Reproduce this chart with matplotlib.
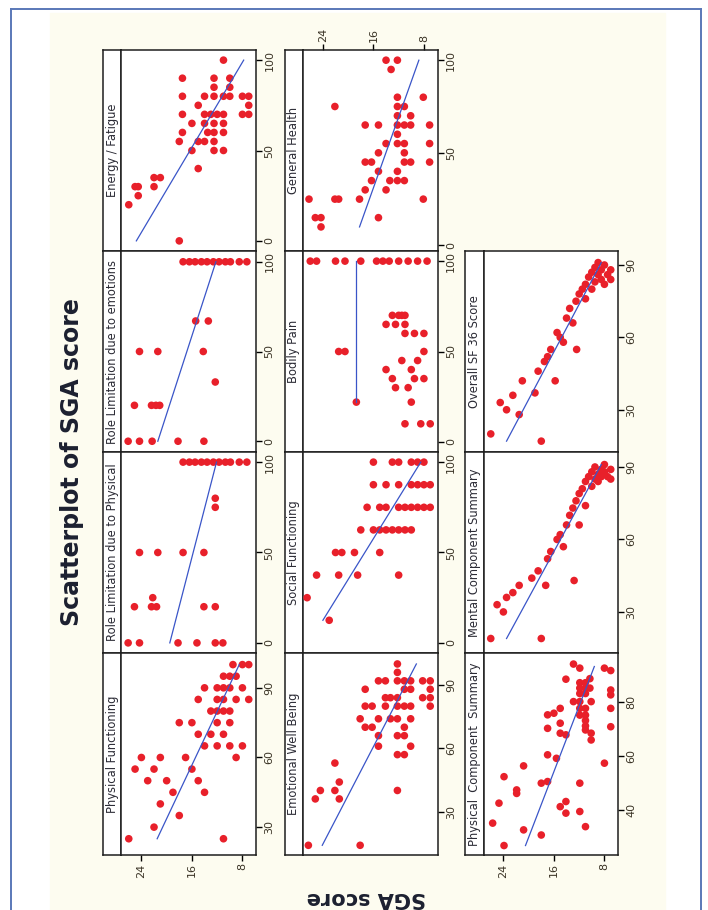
import matplotlib
matplotlib.use('Agg')
import matplotlib.pyplot as plt
from matplotlib import font_manager
from matplotlib.lines import Line2D
from matplotlib.patches import Rectangle

W, H = 708, 910

# ---------------- data ----------------
# discrete scales: value levels and the SGA scores seen at each level

energy_levels = [100, 90, 85, 80, 75, 70, 65, 60, 55, 50, 40, 35, 30, 25, 20, 0]
energy_sga = [[11], [17.5, 12.5, 10], [12.5, 10], [17.5, 14, 12.5, 11, 10, 8, 7],
              [15, 7], [17.5, 14, 13, 12, 11, 8, 7], [16, 14, 12.5, 11],
              [17.5, 13.5, 12.5, 11], [18, 15, 14, 12.5], [16, 12.5, 11], [15],
              [22, 21], [25, 24.5, 22], [24.5], [26], [18]]
energy_fit = [0, 100]
energy_fit_sga = [24.8, 7.8]

role_emo_levels = [100, 67, 50, 33, 20, 0]
role_emo_sga = [[17.4, 16.4, 15.5, 14.5, 13.6, 12.6, 11.7, 10.7, 9.9, 8.5, 7.3],
                [15.4, 13.4], [24.3, 21.4, 14.2], [12.3], [25.1, 22.4, 21.7, 21.1],
                [26.1, 24.3, 22.3, 18.2, 14.1]]
role_emo_fit = [0, 100]
role_emo_fit_sga = [21.4, 12.2]

role_phys_levels = [100, 80, 75, 50, 25, 20, 0]
role_phys_sga = [[17.4, 16.4, 15.5, 14.5, 13.6, 12.6, 11.7, 10.7, 9.9, 8.5, 7.3],
                 [12.3], [12.3], [24.3, 21.4, 17.4, 14.1], [22.2],
                 [25.1, 22.4, 21.6, 14.1, 12.3], [26.1, 24.3, 18.2, 15.2, 12.3, 11.1]]
role_phys_fit = [0, 100]
role_phys_fit_sga = [19.5, 12.1]

pf_levels = [100, 95, 90, 85, 80, 75, 70, 65, 60, 55, 50, 45, 40, 35, 30, 25]
pf_sga = [[9.5, 8, 7], [11, 10, 9], [14, 12, 11, 10, 8], [15, 12, 11, 9, 7], [13, 12, 11, 10],
          [18, 16, 12, 10], [15, 13, 11], [14, 12, 10, 8], [24, 21, 17, 9],
          [25, 22, 16], [23, 20, 15], [19, 14], [21], [18], [22], [26, 11]]
pf_fit = [25, 100]
pf_fit_sga = [21.5, 8.5]

gh_levels = [100, 95, 80, 75, 70, 65, 60, 55, 50, 45, 40, 35, 30, 25, 15, 10]
gh_sga = [[14, 12.2], [13.2], [12.2, 8.1], [22.1, 12.2, 11.1], [12.2, 10.1],
          [17.3, 15.2, 12.2, 11.1, 10.1, 7.1], [12.2], [14, 12.2, 11.1, 7.1],
          [15.2, 11.1], [17.3, 16.3, 11.1, 10.1, 7.1], [15.2, 12.2],
          [16.3, 13.4, 12.2, 11.1], [17.3, 14], [26.2, 22.1, 21.5, 18.2, 8.1],
          [25.2, 24.3, 15.2], [24.3]]
gh_fit = [10, 100]
gh_fit_sga = [18.2, 8.8]

bp_levels = [100, 70, 65, 60, 50, 45, 40, 35, 30, 22, 10]
bp_sga = [[26, 25, 22, 20.5, 18, 15.5, 14.5, 13.5, 12, 10.5, 9, 7.5],
          [13, 12, 11.5, 11], [14, 12.5, 11], [11, 9.5, 8], [21.5, 20.5, 8],
          [11.5, 9], [14, 10], [13, 9.5, 8], [12.5, 10.5], [18.7, 10], [11, 8.5, 7]]
bp_fit = [22, 100]
bp_fit_sga = [18.8, 18.8]

sf_levels = [100, 87.5, 75, 62.5, 50, 37.5, 25, 12.5]
sf_sga = [[16, 13, 12, 10, 9, 8], [16, 14, 12, 10, 9, 8, 7],
          [17, 15, 14, 12, 11, 10, 9, 8, 7], [18, 16, 15, 14, 13, 12, 11, 10],
          [22, 21, 19, 15], [25, 21.5, 18.5, 12], [26.5], [23]]
sf_fit = [12.5, 100]
sf_fit_sga = [24, 8.5]

ewb_levels = [100, 96, 92, 88, 84, 80, 74, 70, 66, 61, 57, 53, 44, 40, 36, 14]
ewb_sga = [[12.2], [12.2], [15.2, 14.1, 12.2, 11.1, 10.1, 8.2, 7.0], [17.3, 11.1, 10.1, 7.0],
           [14.1, 13.3, 12.2, 8.2, 7.0], [17.3, 16.2, 14.1, 12.2, 11.1, 10.1, 7.0],
           [18.1, 15.2, 13.3, 12.2, 10.1], [17.3, 16.2, 11.1], [15.2, 12.2, 11.1],
           [15.2, 10.1], [12.2, 11.1], [22.1], [21.4], [24.4, 22.1, 12.2], [25.2, 21.4],
           [26.3, 18.1]]
ewb_fit = [14, 100]
ewb_fit_sga = [24.1, 9.2]

# continuous summary scores: one SGA value per point
sf36_sga = [26, 18, 24.5, 23.5, 22.5, 21.5, 21, 19, 18.5, 17.5, 17, 16.5, 15.5, 15,
            14.5, 14, 13.5, 13, 12.5, 12, 11.5, 11, 11, 10.5, 10, 10, 9.5, 9.5,
            9, 9, 8.5, 8.5, 8, 8, 7.5, 7, 7, 15.8, 12.4]
sf36_val = [20, 17, 33, 30, 36, 28, 42, 37, 46, 50, 52, 55, 62, 60,
            58, 68, 72, 66, 75, 78, 80, 76, 82, 85, 80, 87, 83, 89,
            86, 91, 84, 88, 82, 90, 86, 84, 88, 42, 55]
sf36_fit = [17, 91]
sf36_fit_sga = [23.5, 8.5]

mcs_sga = [26, 18, 25, 24, 23.5, 22.5, 21.5, 19.5, 17.3, 18.5, 17, 16.5, 15.5, 15,
           14.5, 14, 13.5, 13, 12.8, 12.5, 12, 12, 11.5, 11, 11, 10.5, 10, 10,
           9.5, 9.5, 9, 9, 8.5, 8.5, 8, 8, 7.5, 7, 7]
mcs_val = [19, 19, 33, 30, 36, 38, 41, 44, 41, 47, 52, 55, 60, 62,
           57, 66, 70, 73, 43, 76, 79, 66, 81, 84, 74, 86, 82, 88,
           85, 90, 87, 84, 89, 86, 88, 91, 86, 89, 85]
mcs_fit = [19, 91]
mcs_fit_sga = [23.5, 8.5]

pcs_sga = [12.9, 11.9, 8.0, 7.0, 14.1, 11.9, 11.0, 10.3, 11.9, 11.0, 10.3, 11.9, 11.0,
           7.0, 7.0, 12.9, 11.9, 10.1, 11.9, 11.0, 11.9, 11.0, 11.0, 11.0, 11.0,
           7.0, 15.0, 17.0, 16.0, 17.0, 15.0, 15.0, 14.1, 7.0, 10.1, 10.1,
           17.0, 15.6, 20.8, 8.0, 23.9, 18.0, 17.0, 11.9, 21.9, 21.9, 24.7,
           14.1, 15.0, 14.1, 11.9, 25.7, 20.8, 11.0, 18.0, 23.9]
pcs_val = [93.9, 92.4, 92.4, 91.5, 88.3, 87, 87, 88.5, 85, 85, 85, 83, 83,
           84.3, 82.5, 80, 80, 80, 77.5, 77.5, 75, 75, 73, 71, 69.5,
           77.5, 77.5, 75.1, 75.7, 70.1, 72, 68.3, 67.7, 70.7, 68.3, 65.8,
           60.3, 59, 56.2, 57.2, 52.2, 49.8, 50.4, 49.8, 47.3, 46, 42.4,
           43, 41.1, 38.7, 39.3, 35, 32.5, 33.7, 30.6, 26.7]
pcs_fit = [26.7, 93]
pcs_fit_sga = [20.5, 9.6]


def expand(levels, sga_rows):
    xs, ys = [], []
    for v, row in zip(levels, sga_rows):
        xs += row
        ys += [v] * len(row)
    return xs, ys


names = {f.name for f in font_manager.fontManager.ttflist}
narrow = 'Liberation Sans Narrow' if 'Liberation Sans Narrow' in names else 'DejaVu Sans'

fig = plt.figure(figsize=(W / 100, H / 100), dpi=100, facecolor='white')

# cream graph background and the blue page frame
fig.add_artist(Rectangle((50 / W, 0), (665 - 50) / W, 1 - 13 / H,
                         transform=fig.transFigure, color='#fdfcf0', zorder=0))
frame = dict(transform=fig.transFigure, color='#5a78b8', lw=1.4)
fig.add_artist(Line2D([11 / W, 701 / W], [1 - 9 / H, 1 - 9 / H], **frame))
fig.add_artist(Line2D([11 / W, 11 / W], [0, 1 - 9 / H], **frame))
fig.add_artist(Line2D([701 / W, 701 / W], [0, 1 - 9 / H], **frame))


def px_axes(x0, y0, x1, y1):
    return fig.add_axes([x0 / W, 1 - y1 / H, (x1 - x0) / W, (y1 - y0) / H])


col_x = [103, 284.5, 465]
row_y = [50, 251, 452, 653, 855]
strip_w = 18.5
data_w = 134.5

e_x, e_y = expand(energy_levels, energy_sga)
re_x, re_y = expand(role_emo_levels, role_emo_sga)
rp_x, rp_y = expand(role_phys_levels, role_phys_sga)
pf_x, pf_y = expand(pf_levels, pf_sga)
gh_x, gh_y = expand(gh_levels, gh_sga)
bp_x, bp_y = expand(bp_levels, bp_sga)
sf_x, sf_y = expand(sf_levels, sf_sga)
ew_x, ew_y = expand(ewb_levels, ewb_sga)

# (column, row, strip label, x, y, fit values, fit sga, ylim, yticks)
panels = [
    (0, 0, 'Energy / Fatigue', e_x, e_y, energy_fit, energy_fit_sga, (-5.6, 105.6), [0, 50, 100]),
    (0, 1, 'Role Limitation due to emotions', re_x, re_y, role_emo_fit, role_emo_fit_sga, (-6, 106), [0, 50, 100]),
    (0, 2, 'Role Limitation due to Physical', rp_x, rp_y, role_phys_fit, role_phys_fit_sga, (-5.6, 105.6), [0, 50, 100]),
    (0, 3, 'Physical Functioning', pf_x, pf_y, pf_fit, pf_fit_sga, (18, 105), [30, 60, 90]),
    (1, 0, 'General Health', gh_x, gh_y, gh_fit, gh_fit_sga, (-3, 105.5), [0, 50, 100]),
    (1, 1, 'Bodily Pain', bp_x, bp_y, bp_fit, bp_fit_sga, (-5.6, 105.6), [0, 50, 100]),
    (1, 2, 'Social Functioning', sf_x, sf_y, sf_fit, sf_fit_sga, (-5.6, 105.6), [0, 50, 100]),
    (1, 3, 'Emotional Well Being', ew_x, ew_y, ewb_fit, ewb_fit_sga, (9.4, 105.2), [30, 60, 90]),
    (2, 1, 'Overall SF 36 Score', sf36_sga, sf36_val, sf36_fit, sf36_fit_sga, (12.5, 95.8), [30, 60, 90]),
    (2, 2, 'Mental Component Summary', mcs_sga, mcs_val, mcs_fit, mcs_fit_sga, (13, 96.2), [30, 60, 90]),
    (2, 3, 'Physical  Component  Summary', pcs_sga, pcs_val, pcs_fit, pcs_fit_sga, (23.2, 98), [40, 60, 80]),
]

label_color = '#3b3426'

for col, row, label, xs, ys, fit_v, fit_s, ylim, yticks in panels:
    x0 = col_x[col]
    y0, y1 = row_y[row], row_y[row + 1]

    strip = px_axes(x0, y0, x0 + strip_w, y1)
    strip.set_facecolor('white')
    strip.set_xticks([])
    strip.set_yticks([])
    strip.text(0.5, 0.5, label, rotation=90, ha='center', va='center',
               fontsize=8.3, color='#2b2b35', transform=strip.transAxes)

    ax = px_axes(x0 + strip_w, y0, x0 + strip_w + data_w, y1)
    ax.set_facecolor('white')
    ax.scatter(xs, ys, s=30, color='#e8202a', edgecolors='none', zorder=3)
    ax.plot(fit_s, fit_v, color='#3a55c8', lw=0.9, zorder=4)
    ax.set_xlim(27.15, 5.85)
    ax.set_ylim(*ylim)

    ax.yaxis.tick_right()
    ax.set_yticks(yticks)
    ax.tick_params(axis='y', direction='out', length=4, width=1, pad=2,
                   labelsize=8, labelcolor=label_color, labelrotation=90)
    for t in ax.get_yticklabels():
        t.set_va('center')
        t.set_family(narrow)

    ax.set_xticks([24, 16, 8])
    if row == 3 and col in (0, 2):
        ax.tick_params(axis='x', direction='out', length=4, width=1, pad=2,
                       labelsize=8, labelcolor=label_color, labelrotation=90)
    elif row == 0 and col == 1:
        ax.xaxis.tick_top()
        ax.tick_params(axis='x', direction='out', length=4, width=1, pad=2,
                       labelsize=8, labelcolor=label_color, labelrotation=90)
    else:
        ax.tick_params(axis='x', length=0, labelbottom=False)
    for t in ax.get_xticklabels():
        t.set_family(narrow)

    for a in (strip, ax):
        for s in a.spines.values():
            s.set_linewidth(1.1)
            s.set_color('#1e1e1e')

fig.text(72 / W, 1 - 462 / H, 'Scatterplot of SGA score', rotation=90,
         ha='center', va='center', fontsize=17, fontweight='bold',
         family=narrow, color='#1c2030')
fig.text(366 / W, 1 - 908 / H, 'SGA score', rotation=180,
         ha='center', va='bottom', fontsize=15, fontweight='bold',
         family=narrow, color='#1c2030')

fig.savefig('out.png', dpi=100, facecolor='white')
